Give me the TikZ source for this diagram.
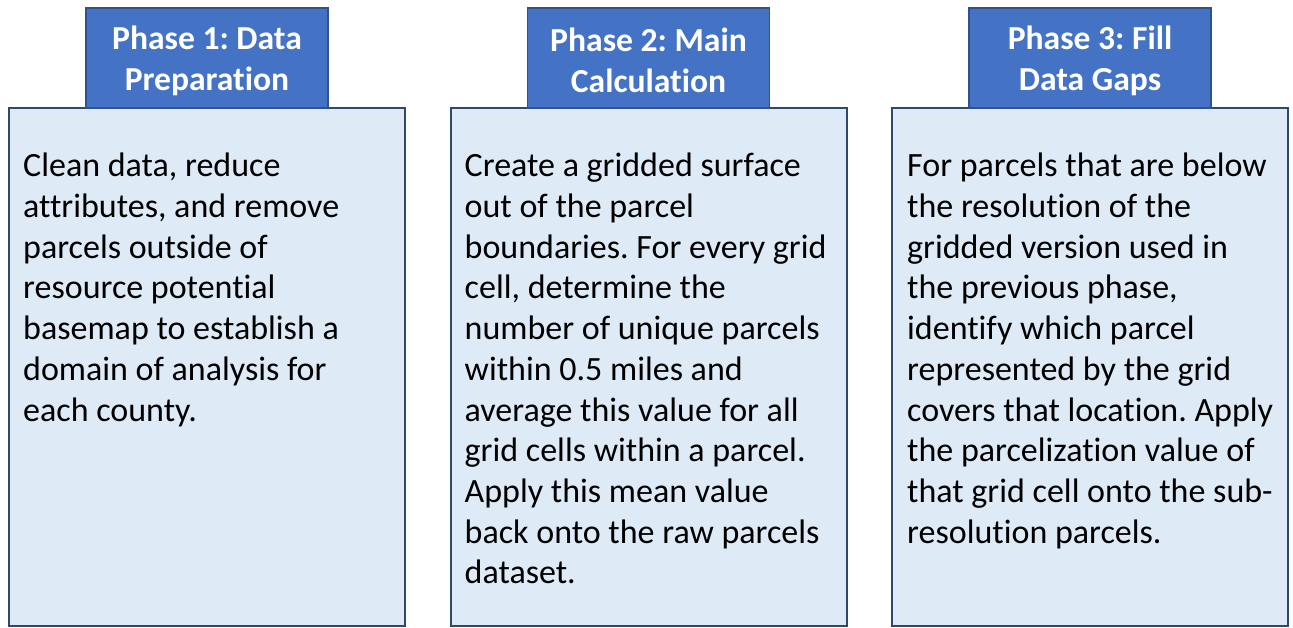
\documentclass[tikz,border=0pt]{standalone}
\usepackage{fontspec}
\setmainfont{Carlito}[Ligatures={NoCommon}]
\usepackage{tikz}
\definecolor{hdrfill}{HTML}{4472C4}
\definecolor{hdrline}{HTML}{2F528F}
\definecolor{bodyfill}{HTML}{DEEAF6}
\definecolor{bodyline}{HTML}{2E4A6B}
\frenchspacing

\begin{document}
\begin{tikzpicture}[x=1pt,y=-1pt,phase/.style={draw=hdrline,line width=1.5pt,fill=hdrfill,minimum width=242pt,minimum height=100pt,inner sep=0pt},phasetext/.style={text=white,align=center,inner sep=0pt,font=\fontsize{33.6}{41}\selectfont\bfseries},stage/.style={draw=bodyline,line width=2pt,fill=bodyfill,minimum width=396pt,minimum height=518pt,inner sep=0pt},stagetext/.style={anchor=north west,align=left,inner sep=0pt,font=\fontsize{34}{40.7}\selectfont}]
\def\xa{207};
\def\dx{441.5};
\def\yh{58};
\def\yb{367};

\useasboundingbox (0,0) rectangle (1293,627);

\node[stage] (B1) at (\xa,\yb) {};
\node[phase] (P1) at (\xa,\yh) {};
\node[phasetext] (H1) at ([yshift=-2.5pt]P1.center) {Phase 1: Data\\Preparation};
\node[stagetext] (T1) at ([xshift=15pt,yshift=-46pt]B1.north west) {Clean data, reduce\\attributes, and remove\\parcels outside of\\resource potential\\basemap to establish a\\domain of analysis for\\each county.};

\node[stage] (B2) at (\xa+\dx,\yb) {};
\node[phase] (P2) at (\xa+\dx,\yh) {};
\node[phasetext] (H2) at ([yshift=-2.5pt]P2.center) {Phase 2: Main\\Calculation};
\node[stagetext] (T2) at ([xshift=15pt,yshift=-46pt]B2.north west) {Create a gridded surface\\out of the parcel\\boundaries. For every grid\\cell, determine the\\number of unique parcels\\within 0.5 miles and\\average this value for all\\grid cells within a parcel.\\Apply this mean value\\back onto the raw parcels\\dataset.};

\node[stage] (B3) at (\xa+2*\dx,\yb) {};
\node[phase] (P3) at (\xa+2*\dx,\yh) {};
\node[phasetext] (H3) at ([yshift=-2.5pt]P3.center) {Phase 3: Fill\\Data Gaps};
\node[stagetext] (T3) at ([xshift=16pt,yshift=-46pt]B3.north west) {For parcels that are below\\the resolution of the\\gridded version used in\\the previous phase,\\identify which parcel\\represented by the grid\\covers that location. Apply\\the parcelization value of\\that grid cell onto the sub-\\resolution parcels.};
\end{tikzpicture}
\end{document}
